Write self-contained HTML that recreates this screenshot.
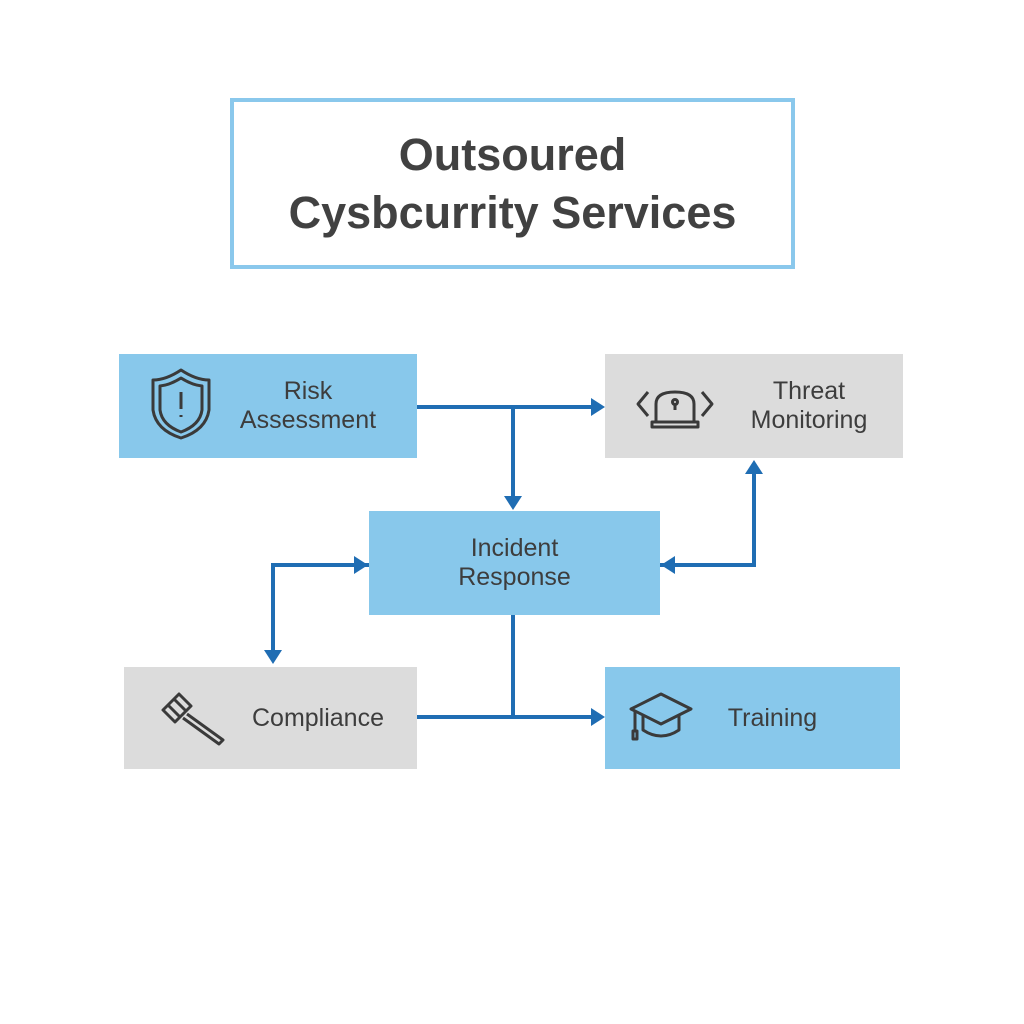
<!DOCTYPE html>
<html><head><style>
body{margin:0;width:1024px;height:1024px;background:#fff;position:relative;font-family:"Liberation Sans",sans-serif;overflow:hidden}
.b{position:absolute;display:flex;align-items:center;justify-content:center;color:#3d3d3d;font-size:25px;text-align:center;line-height:29px}
.blue{background:#88c8eb}.gray{background:#dcdcdc}
</style></head><body>
<div style="position:absolute;left:230px;top:98px;width:557px;height:163px;border:4px solid #8ac8ec;display:flex;align-items:center;justify-content:center;text-align:center;font-size:45px;line-height:58px;color:#414141;font-weight:bold">Outsoured<br>Cysbcurrity Services</div>
<div class="b blue" style="left:119px;top:354px;width:298px;height:104px;padding-left:80px;box-sizing:border-box">Risk<br>Assessment</div>
<div class="b gray" style="left:605px;top:354px;width:298px;height:104px;padding-left:110px;box-sizing:border-box">Threat<br>Monitoring</div>
<div class="b blue" style="left:369px;top:511px;width:291px;height:104px">Incident<br>Response</div>
<div class="b gray" style="left:124px;top:667px;width:293px;height:102px;padding-left:95px;box-sizing:border-box">Compliance</div>
<div class="b blue" style="left:605px;top:667px;width:295px;height:102px;padding-left:40px;box-sizing:border-box">Training</div>
<svg width="1024" height="1024" style="position:absolute;left:0;top:0" fill="none">
<g stroke="#1f6db3" stroke-width="4">
<path d="M417 407H592M513 407V496M660 565H754V474M369 565H273V650M513 615V717M417 717H592M676 565H660"/>
</g>
<g fill="#1f6db3">
<path d="M605 407l-14-9v18z"/><path d="M513 510l-9-14h18z"/><path d="M754 460l-9 14h18z"/><path d="M661 565l14-9v18z"/>
<path d="M368 565l-14-9v18z"/><path d="M273 664l-9-14h18z"/><path d="M605 717l-14-9v18z"/>
</g>
<g stroke="#3a3a3a" stroke-width="3" stroke-linejoin="round">
<path d="M181 370q-15 10-28 10v30q3 20 28 28q25-8 28-28v-30q-13 0-28-10z"/>
<path d="M181 378q-11 7-21 8v24q2 15 21 22q19-7 21-22v-24q-10-1-21-8z"/>
<path d="M181 392v17M181 415v2"/>
<path d="M656 422v-18q0-12 19-12q19 0 19 12v18zM652 422h46v5h-46z"/>
<path d="M648 392l-10 12l10 12M702 392l10 12l-10 12M675 410v-6"/>
<circle cx="675" cy="402" r="2.5"/>
<path d="M163 710l16-16l12 12l-16 16zM168 705l12 12M174 699l12 12"/>
<path d="M187 714l36 26l-4 4l-36-26" fill="#ddd"/>
<path d="M631 709l30-15l30 15l-30 15z"/><path d="M643 716v14q18 12 36 0v-14"/><path d="M635 711v20"/><rect x="633" y="731" width="4" height="8"/>
</g>
</svg>
</body></html>
